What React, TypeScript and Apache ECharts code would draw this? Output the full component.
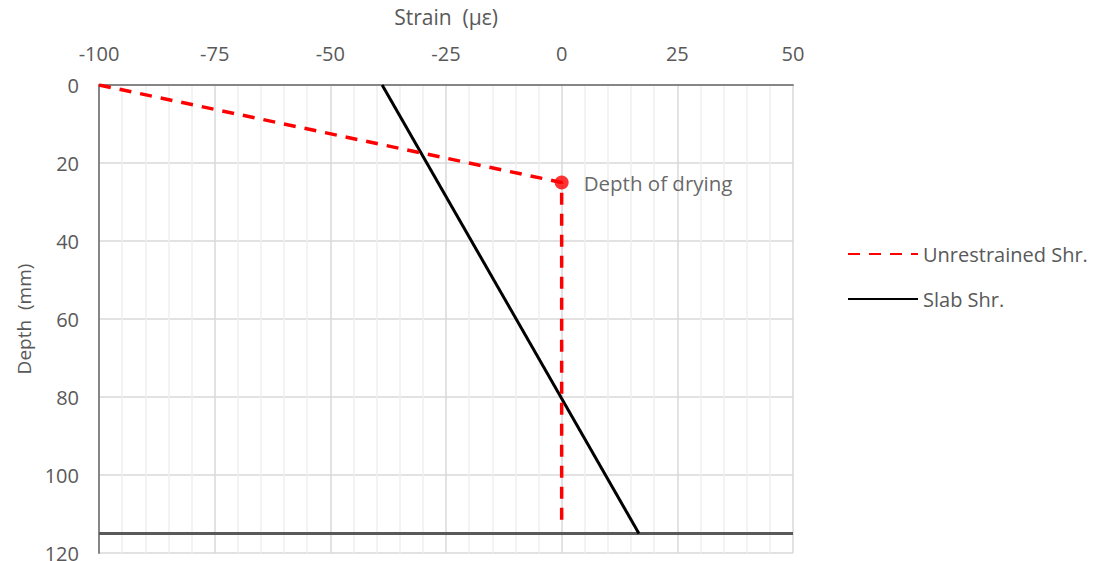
import React, { useEffect, useRef } from "react";
import * as echarts from "echarts";

const unrestrainedStrain = [-100, 0, 0];
const unrestrainedDepth = [0, 25, 113];
const slabStrain = [-38.8, 16.7];
const slabDepth = [0, 115];
const dryingPoint = [0, 25];
const slabBottom = 115;
const xTicks = { min: -100, max: 50, interval: 25 };
const yTicks = { min: 0, max: 120, interval: 20 };

const FONT = "'Open Sans', sans-serif";

export default function App() {
  const ref = useRef<HTMLDivElement>(null);
  useEffect(() => {
    const chart = echarts.init(ref.current!, null, { renderer: "svg" });
    chart.setOption({
      animation: false,
      textStyle: { fontFamily: FONT },
      grid: {
        left: 99,
        top: 85,
        right: 304,
        bottom: 8,
        containLabel: false,
        outerBoundsMode: "none",
      },
      legend: {
        orient: "vertical",
        left: 847,
        top: 244,
        padding: 0,
        itemGap: 25,
        itemWidth: 70,
        itemHeight: 14,
        itemStyle: { opacity: 0 },
        textStyle: { color: "#595959", fontSize: 20, fontFamily: FONT },
        data: ["Unrestrained Shr.", "Slab Shr."],
      },
      xAxis: {
        type: "value",
        position: "top",
        min: xTicks.min,
        max: xTicks.max,
        interval: xTicks.interval,
        name: "Strain  (\u03bc\u03b5)",
        nameLocation: "middle",
        nameGap: 58,
        nameTextStyle: { color: "#595959", fontSize: 21, fontFamily: FONT },
        axisLine: { show: true, onZero: false, lineStyle: { color: "#868686", width: 2 } },
        axisTick: { show: false },
        axisLabel: { color: "#595959", fontSize: 20, margin: 22, fontFamily: FONT },
        splitLine: { show: true, lineStyle: { color: "#d9d9d9", width: 1.5 } },
        minorTick: { show: false, splitNumber: 5 },
        minorSplitLine: { show: true, lineStyle: { color: "#efefef", width: 1.5 } },
      },
      yAxis: {
        type: "value",
        inverse: true,
        min: yTicks.min,
        max: yTicks.max,
        interval: yTicks.interval,
        name: "Depth  (mm)",
        nameLocation: "middle",
        nameGap: 60,
        nameRotate: 90,
        nameTextStyle: { color: "#595959", fontSize: 19, fontFamily: FONT },
        axisLine: { show: true, onZero: false, lineStyle: { color: "#868686", width: 2 } },
        axisTick: { show: false },
        axisLabel: { color: "#595959", fontSize: 20, margin: 20, fontFamily: FONT },
        splitLine: { show: true, lineStyle: { color: "#d9d9d9", width: 1.5 } },
      },
      series: [
        {
          name: "Unrestrained Shr.",
          type: "line",
          symbol: "none",
          data: unrestrainedStrain.map((x, i) => [x, unrestrainedDepth[i]]),
          lineStyle: { color: "#ff0000", width: 3.5, type: [12, 9] },
          itemStyle: { color: "#ff0000" },
          z: 4,
        },
        {
          name: "Slab Shr.",
          type: "line",
          symbol: "none",
          data: slabStrain.map((x, i) => [x, slabDepth[i]]),
          lineStyle: { color: "#000000", width: 3 },
          itemStyle: { color: "#000000" },
          z: 3,
        },
        {
          name: "bottom",
          type: "line",
          symbol: "none",
          data: [[xTicks.min, slabBottom], [xTicks.max, slabBottom]],
          lineStyle: { color: "#595959", width: 3 },
          z: 2,
        },
        {
          name: "drying",
          type: "scatter",
          symbol: "circle",
          symbolSize: 14,
          data: [dryingPoint],
          itemStyle: { color: "#ff0000" },
          label: {
            show: true,
            position: "right",
            distance: 15,
            formatter: "Depth of drying",
            color: "#404040",
            fontSize: 20.5,
            fontFamily: FONT,
          },
          z: 5,
        },
      ],
    });
    return () => chart.dispose();
  }, []);
  return <div ref={ref} style={{ width: 1097, height: 561, position: "absolute", left: 0, top: 0 }} />;
}
